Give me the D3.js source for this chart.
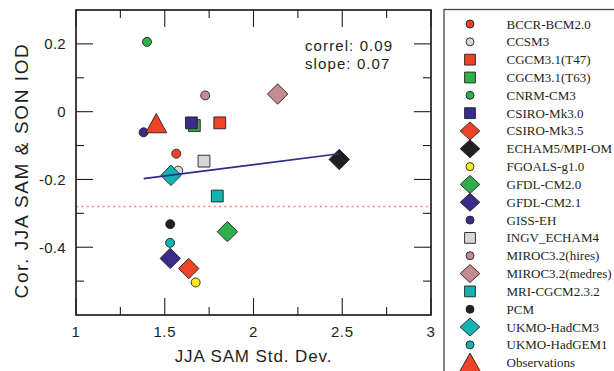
<!DOCTYPE html>
<html lang="en">
<head>
<meta charset="utf-8" />
<title>JJA SAM vs SON IOD</title>
<style>
  body { margin: 0; background: #fff; }
  svg { display: block; }
  .ax-txt { font-family: "Liberation Sans", Arial, sans-serif; fill: #231f20; }
  .leg-txt { font-family: "Liberation Serif", "Times New Roman", serif; font-size: 13px; fill: #231f20; }
</style>
</head>
<body>
<div id="chart"></div>
<script src="https://cdnjs.cloudflare.com/ajax/libs/d3/7.8.5/d3.min.js"></script>
<script>
// legend order (also draw order)
var models = ["BCCR-BCM2.0", "CCSM3", "CGCM3.1(T47)", "CGCM3.1(T63)", "CNRM-CM3",
  "CSIRO-Mk3.0", "CSIRO-Mk3.5", "ECHAM5/MPI-OM", "FGOALS-g1.0", "GFDL-CM2.0",
  "GFDL-CM2.1", "GISS-EH", "INGV_ECHAM4", "MIROC3.2(hires)", "MIROC3.2(medres)",
  "MRI-CGCM2.3.2", "PCM", "UKMO-HadCM3", "UKMO-HadGEM1", "Observations"];

// x: JJA SAM std. dev.
var samStdDev = [1.565, 1.576, 1.810, 1.667, 1.400,
  1.650, 1.635, 2.483, 1.674, 1.853,
  1.531, 1.381, 1.721, 1.728, 2.136,
  1.796, 1.531, 1.535, 1.530, 1.452];

// y: correlation JJA SAM & SON IOD
var corSamIod = [-0.124, -0.174, -0.033, -0.041, 0.206,
  -0.033, -0.463, -0.141, -0.504, -0.354,
  -0.433, -0.061, -0.146, 0.048, 0.052,
  -0.249, -0.332, -0.188, -0.387, -0.034];

var xTicks = [1, 1.5, 2, 2.5, 3];
var xTickLabels = ["1", "1.5", "2", "2.5", "3"];
var xMinor = [1.25, 1.75, 2.25, 2.75];
var yTicks = [-0.4, -0.2, 0, 0.2];
var yTickLabels = ["-0.4", "-0.2", "0", "0.2"];
var yMinor = [-0.5, -0.3, -0.1, 0.1];

var statLines = ["correl: 0.09", "slope: 0.07"];
var sigLevel = -0.28;

var W = 614, H = 371;
var margin = { top: 10, right: 183, bottom: 56, left: 76 },
    width = W - margin.left - margin.right,
    height = H - margin.top - margin.bottom;
var ink = "#231f20";

// marker look per model
var red = "#ee4326", grey = "#d7d7d7", green = "#2faf4b", blue = "#3a2c8c",
    black = "#231f20", yellow = "#fbea1a", pink = "#c68b8e", cyan = "#12b3b0";
var look = {
  "BCCR-BCM2.0": ["circle", red], "CCSM3": ["circle", grey],
  "CGCM3.1(T47)": ["square", red], "CGCM3.1(T63)": ["square", green],
  "CNRM-CM3": ["circle", green], "CSIRO-Mk3.0": ["square", blue],
  "CSIRO-Mk3.5": ["diamond", red], "ECHAM5/MPI-OM": ["diamond", black],
  "FGOALS-g1.0": ["circle", yellow], "GFDL-CM2.0": ["diamond", green],
  "GFDL-CM2.1": ["diamond", blue], "GISS-EH": ["circle", blue],
  "INGV_ECHAM4": ["square", grey], "MIROC3.2(hires)": ["circle", pink],
  "MIROC3.2(medres)": ["diamond", pink], "MRI-CGCM2.3.2": ["square", cyan],
  "PCM": ["circle", black], "UKMO-HadCM3": ["diamond", cyan],
  "UKMO-HadGEM1": ["circle", cyan], "Observations": ["triangle", red]
};

function markerPath(shape, big) {
  if (shape == "circle") {
    var r = big ? 4.5 : 4;
    return d3.symbol(d3.symbolCircle, Math.PI * r * r)();
  }
  if (shape == "square") {
    var s = big ? 11.8 : 10.8;
    return d3.symbol(d3.symbolSquare, s * s)();
  }
  if (shape == "diamond") {
    var hx = big ? 10.2 : 9.8, hy = big ? 10.2 : 9;
    return "M0," + (-hy) + "L" + hx + ",0L0," + hy + "L" + (-hx) + ",0Z";
  }
  var tw = big ? 10.5 : 10.8, th = big ? 9.6 : 9.6;
  return "M0," + (-th) + "L" + tw + "," + th + "L" + (-tw) + "," + th + "Z";
}

var svg = d3.select("#chart").append("svg")
    .attr("width", W).attr("height", H)
    .style("background", "#fff");

var g = svg.append("g")
    .attr("transform", "translate(" + margin.left + "," + margin.top + ")");

var x = d3.scaleLinear().domain([1, 3]).range([0, width]);
var y = d3.scaleLinear().domain([-0.6, 0.3]).range([height, 0]);

// inward ticks on all four sides
function ticksX(vals, len) {
  [0, height].forEach(function (yy) {
    g.selectAll(null).data(vals).enter().append("line")
      .attr("x1", function (d) { return x(d); })
      .attr("x2", function (d) { return x(d); })
      .attr("y1", yy)
      .attr("y2", yy == 0 ? len : height - len)
      .attr("stroke", ink).attr("stroke-width", 1.1);
  });
}
function ticksY(vals, len) {
  [0, width].forEach(function (xx) {
    g.selectAll(null).data(vals).enter().append("line")
      .attr("y1", function (d) { return y(d); })
      .attr("y2", function (d) { return y(d); })
      .attr("x1", xx)
      .attr("x2", xx == 0 ? len : width - len)
      .attr("stroke", ink).attr("stroke-width", 1.1);
  });
}
ticksX(xTicks, 17); ticksX(xMinor, 8);
ticksY(yTicks, 17); ticksY(yMinor, 8);

g.selectAll(null).data(xTicks).enter().append("text")
  .attr("class", "ax-txt")
  .attr("x", function (d) { return x(d); })
  .attr("y", height + 22)
  .attr("text-anchor", "middle")
  .style("font-size", "15px").style("letter-spacing", "0.6px")
  .text(function (d, i) { return xTickLabels[i]; });

g.selectAll(null).data(yTicks).enter().append("text")
  .attr("class", "ax-txt")
  .attr("x", -10)
  .attr("y", function (d) { return y(d); })
  .attr("dy", "0.36em")
  .attr("text-anchor", "end")
  .style("font-size", "15px").style("letter-spacing", "0.3px")
  .text(function (d, i) { return yTickLabels[i]; });

// axis titles
g.append("text").attr("class", "ax-txt")
  .attr("x", x(2)).attr("y", height + 47)
  .attr("text-anchor", "middle")
  .style("font-size", "17px").style("letter-spacing", "0.9px")
  .text("JJA SAM Std. Dev.");

g.append("text").attr("class", "ax-txt")
  .attr("transform", "translate(-48," + (y(-0.15) + 8) + ") rotate(-90)")
  .attr("text-anchor", "middle")
  .style("font-size", "19px").style("letter-spacing", "1.6px")
  .text("Cor. JJA SAM & SON IOD");

// significance line
g.append("line")
  .attr("x1", 0).attr("x2", width)
  .attr("y1", y(sigLevel)).attr("y2", y(sigLevel))
  .attr("stroke", "#f4897b").attr("stroke-width", 1.4)
  .attr("stroke-dasharray", "2,3.3");

// markers
var pts = models.map(function (m, i) { return { name: m, sd: samStdDev[i], cor: corSamIod[i] }; });

g.selectAll(".mark").data(pts).enter().append("path")
  .attr("class", "mark")
  .attr("transform", function (d) { return "translate(" + x(d.sd) + "," + y(d.cor) + ")"; })
  .attr("d", function (d) { return markerPath(look[d.name][0], true); })
  .attr("fill", function (d) { return look[d.name][1]; })
  .attr("stroke", ink).attr("stroke-width", 0.9);

// least squares fit over the models
var mods = pts.filter(function (d) { return d.name != "Observations"; });
var mx = d3.mean(mods, function (d) { return d.sd; }),
    my = d3.mean(mods, function (d) { return d.cor; });
var sxy = d3.sum(mods, function (d) { return (d.sd - mx) * (d.cor - my); }),
    sxx = d3.sum(mods, function (d) { return (d.sd - mx) * (d.sd - mx); });
var slope = sxy / sxx, icpt = my - slope * mx;
var ext = d3.extent(mods, function (d) { return d.sd; });
g.append("line")
  .attr("x1", x(ext[0])).attr("y1", y(icpt + slope * ext[0]))
  .attr("x2", x(ext[1])).attr("y2", y(icpt + slope * ext[1]))
  .attr("stroke", "#2e2a8a").attr("stroke-width", 1.6);

g.selectAll(".stat").data(statLines).enter().append("text")
  .attr("class", "ax-txt stat")
  .attr("x", 229)
  .attr("y", function (d, i) { return 41 + i * 18.3; })
  .style("font-size", "15px").style("letter-spacing", "1.1px")
  .text(function (d) { return d; });

// frame on top
g.append("rect")
  .attr("width", width).attr("height", height)
  .attr("fill", "none").attr("stroke", ink).attr("stroke-width", 1.7);

// legend
var leg = svg.append("g");
leg.append("rect")
  .attr("x", 444).attr("y", 9.5)
  .attr("width", 200).attr("height", 400)
  .attr("fill", "none").attr("stroke", "#444").attr("stroke-width", 1.3);

var ly = d3.scaleLinear().domain([0, models.length - 1]).range([24, 362.7]);
leg.selectAll(null).data(models).enter().append("path")
  .attr("transform", function (d, i) { return "translate(470," + ly(i) + ")"; })
  .attr("d", function (d) { return markerPath(look[d][0], false); })
  .attr("fill", function (d) { return look[d][1]; })
  .attr("stroke", ink).attr("stroke-width", 0.9);

leg.selectAll(null).data(models).enter().append("text")
  .attr("class", "leg-txt")
  .attr("x", 506.5)
  .attr("y", function (d, i) { return ly(i) + 4.5; })
  .text(function (d) { return d; });
</script>
</body>
</html>
